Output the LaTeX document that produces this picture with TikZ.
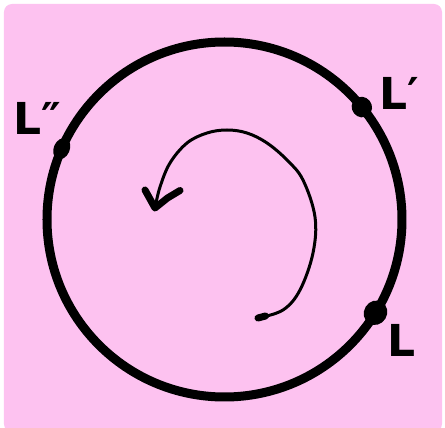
\documentclass[tikz,border=0pt]{standalone}
\usepackage{fontspec}
\usepackage{tikz}
\usetikzlibrary{shapes.geometric}
\newfontfamily\handfont{DejaVu Sans}
\definecolor{Blush}{RGB}{253,194,240}

\begin{document}
\begin{tikzpicture}[x=1pt,y=1pt, line cap=round, line join=round,
    dot/.style={ellipse, fill=black, inner sep=0pt},
    lbl/.style={font=\handfont\bfseries\fontsize{44}{44}\selectfont, inner sep=0pt}]
      \useasboundingbox (-224.5,-208.5) rectangle (220.5,219.5);
      \fill[Blush, rounded corners=8pt] (-220.5,-212.5) rectangle (217.5,215.5);
      \draw[line width=9pt] (0,0) circle (177.5);
      % points on the ring
      \foreach \n/\a/\w/\h in {pL/-31.7/25/23, pLa/39.3/21/20, pLb/156.5/22/16} {
        \node[dot, minimum width=\w pt, minimum height=\h pt, rotate=\a+90] (\n) at (\a:177.5) {};
      }
      \node[lbl] at ([shift={(26,-28)}]pL) {L};
      \node[lbl] at ([shift={(37,14)}]pLa) {L′};
      \node[lbl] at ([shift={(-24,30)}]pLb) {L″};
      % turning arrow
      \draw[line width=3pt] plot[smooth, tension=0.6] coordinates {(33.5,-98.5) (58.5,-90.5) (75.5,-70.5) (88.5,-33.5) (90.5,2.5) (78.5,39.5) (62.5,59.5) (42.5,76.5) (22.5,86.5) (2.5,89.5) (-17.5,86.5) (-37.5,76.5) (-54.5,56.5) (-64.5,32.5) (-69.5,11.5)};
      \draw[line width=7pt] (33.5,-98.5) -- (41,-96.5);
      \draw[line width=7pt] (-79.5,29.5) -- (-69.5,11.5) -- (-57,21.5) -- (-44.5,29);
    \end{tikzpicture}
\end{document}
